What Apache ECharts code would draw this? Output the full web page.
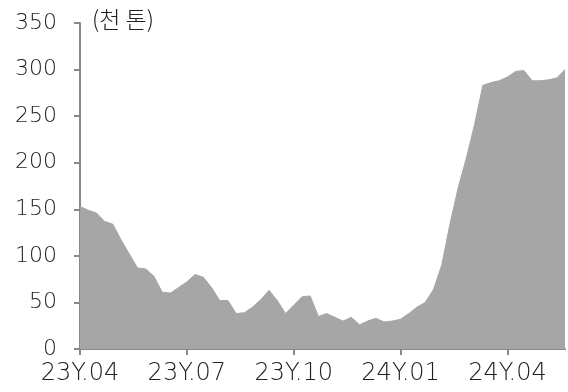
<!DOCTYPE html>
<html>
<head>
<meta charset="utf-8">
<script src="https://cdn.jsdelivr.net/npm/echarts@6/dist/echarts.min.js"></script>
<style>
  html, body { margin: 0; padding: 0; background: #fff; }
  #chart { width: 568px; height: 392px; }
</style>
</head>
<body>
<div id="chart"></div>
<script>
// weekly volume (thousand tons), 23Y.04 ~ 24Y.05
const values = [
  153, 149, 146, 137, 134, 117, 102, 87, 86, 78,
  61, 60, 66, 72, 80, 77, 66, 52, 52, 38,
  39, 45, 53, 63, 52, 38, 47, 56, 57, 35,
  38, 34, 30, 34, 26, 30, 33, 29, 30, 32,
  38, 45, 50, 64, 90, 134, 173, 205, 241, 283,
  286, 288, 292, 298, 299, 288, 288, 289, 291, 300
];
const tickIndex = [0, 13, 26, 39, 52];
const tickLabels = ['23Y.04', '23Y.07', '23Y.10', '24Y.01', '24Y.04'];
const unitLabel = '(천 톤)';

const categories = values.map((v, i) => {
  const k = tickIndex.indexOf(i);
  return k >= 0 ? tickLabels[k] : '';
});
const isTick = (i) => tickIndex.indexOf(i) >= 0;

let chart = echarts.init(document.getElementById('chart'));
let option = {
  animation: false,
  grid: { left: 80, right: 3, top: 23, bottom: 43 },
  graphic: [{
    type: 'text',
    left: 92,
    top: 8,
    style: {
      text: unitLabel,
      font: '300 23px "Noto Sans CJK KR"',
      fill: '#222'
    }
  }],
  xAxis: {
    type: 'category',
    data: categories,
    boundaryGap: false,
    axisLine: { lineStyle: { color: '#888', width: 2 } },
    axisTick: { interval: isTick, length: 6, lineStyle: { color: '#888', width: 2 } },
    axisLabel: {
      interval: isTick,
      margin: 13,
      color: '#222',
      fontSize: 24,
      fontWeight: 200,
      fontFamily: 'DejaVu Sans'
    },
    splitLine: { show: false }
  },
  yAxis: {
    type: 'value',
    min: 0,
    max: 350,
    interval: 50,
    axisLine: { show: true, lineStyle: { color: '#888', width: 2 } },
    axisTick: { show: true, length: 6, lineStyle: { color: '#888', width: 2 } },
    axisLabel: {
      margin: 23,
      color: '#222',
      fontSize: 22,
      fontWeight: 200,
      fontFamily: 'DejaVu Sans'
    },
    splitLine: { show: false }
  },
  series: [{
    type: 'line',
    data: values,
    symbol: 'none',
    lineStyle: { color: '#a6a6a6', width: 1 },
    areaStyle: { color: '#a6a6a6', opacity: 1 },
    z: 1
  }]
};
chart.setOption(option);
</script>
</body>
</html>
